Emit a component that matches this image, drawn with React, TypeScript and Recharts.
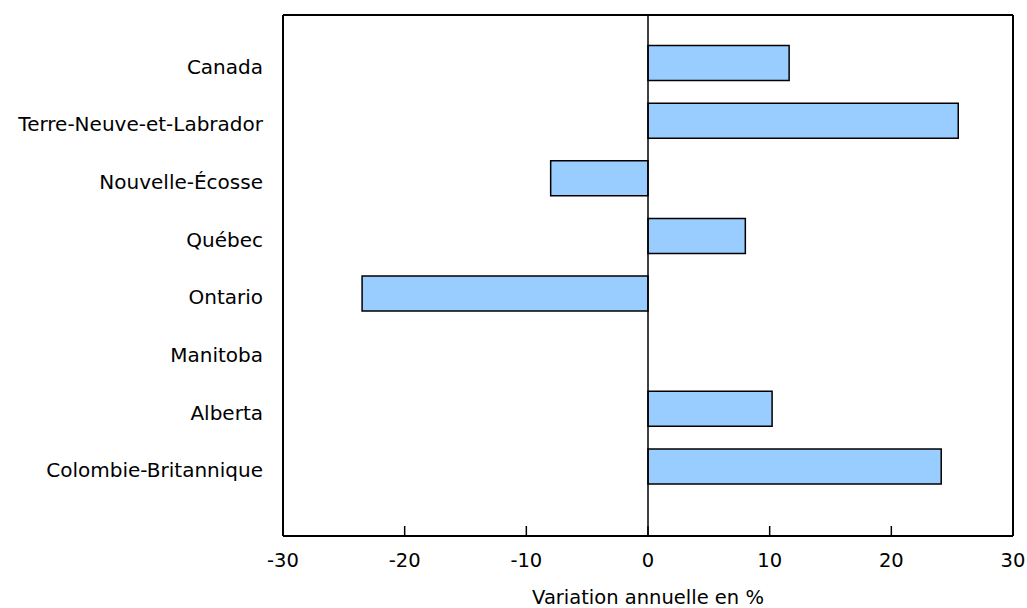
import React from 'react';
import { BarChart, Bar, XAxis, YAxis, ReferenceLine, CartesianGrid } from 'recharts';

const categories = [
  'Canada',
  'Terre-Neuve-et-Labrador',
  'Nouvelle-Écosse',
  'Québec',
  'Ontario',
  'Manitoba',
  'Alberta',
  'Colombie-Britannique',
];
const values = [11.6, 25.5, -8.0, 8.0, -23.5, 0.0, 10.2, 24.1];
const xTicks = [-30, -20, -10, 0, 10, 20, 30];

const data = categories.map((name, i) => ({ name, value: values[i] }));

const FONT = '"DejaVu Sans", Verdana, sans-serif';
const FS = 19.5;

const XTick = (props: any) => {
  const { x, y, payload } = props;
  const v = payload.value;
  return (
    <g>
      {v !== -30 && v !== 30 && (
        <line x1={x} x2={x} y1={y - 10} y2={y} stroke="#000" strokeWidth={1.5} />
      )}
      <text x={x} y={y + 31} textAnchor="middle" fontFamily={FONT} fontSize={FS} fill="#000">
        {v}
      </text>
    </g>
  );
};

const YTick = (props: any) => {
  const { x, y, payload } = props;
  return (
    <text x={x} y={y} dy={4} textAnchor="end" dominantBaseline="central" fontFamily={FONT} fontSize={20} fill="#000">
      {payload.value}
    </text>
  );
};

export default function App() {
  return (
    <div style={{ position: 'absolute', left: 0, top: 0, width: 1027, height: 608, background: '#fff' }}>
      <BarChart
        width={1027}
        height={608}
        data={data}
        layout="vertical"
        margin={{ top: 15, right: 14, bottom: 0, left: 0 }}
        barCategoryGap="20%"
      >
        <CartesianGrid
          stroke="#000"
          strokeWidth={2}
          horizontalCoordinatesGenerator={({ offset }: any) => [offset.top, offset.top + offset.height]}
          verticalCoordinatesGenerator={({ offset }: any) => [offset.left, offset.left + offset.width]}
        />
        <XAxis
          type="number"
          domain={[-30, 30]}
          ticks={xTicks}
          height={72}
          tickSize={0}
          tickMargin={0}
          tick={<XTick />}
          axisLine={{ stroke: '#000', strokeWidth: 2 }}
          tickLine={false}
          interval={0}
          label={{
            value: 'Variation annuelle en %',
            position: 'insideBottom',
            offset: 4,
            style: { fontFamily: FONT, fontSize: FS, fill: '#000' },
          }}
        />
        <YAxis
          type="category"
          dataKey="name"
          width={283}
          tickSize={0}
          tickMargin={20}
          tickLine={false}
          axisLine={{ stroke: '#000', strokeWidth: 2 }}
          padding={{ top: 19, bottom: 41 }}
          interval={0}
          tick={<YTick />}
        />
        <ReferenceLine x={0} stroke="#000" strokeWidth={1.5} />
        <Bar dataKey="value" fill="#99CCFF" stroke="#000" strokeWidth={1.5} isAnimationActive={false} />
      </BarChart>
    </div>
  );
}
